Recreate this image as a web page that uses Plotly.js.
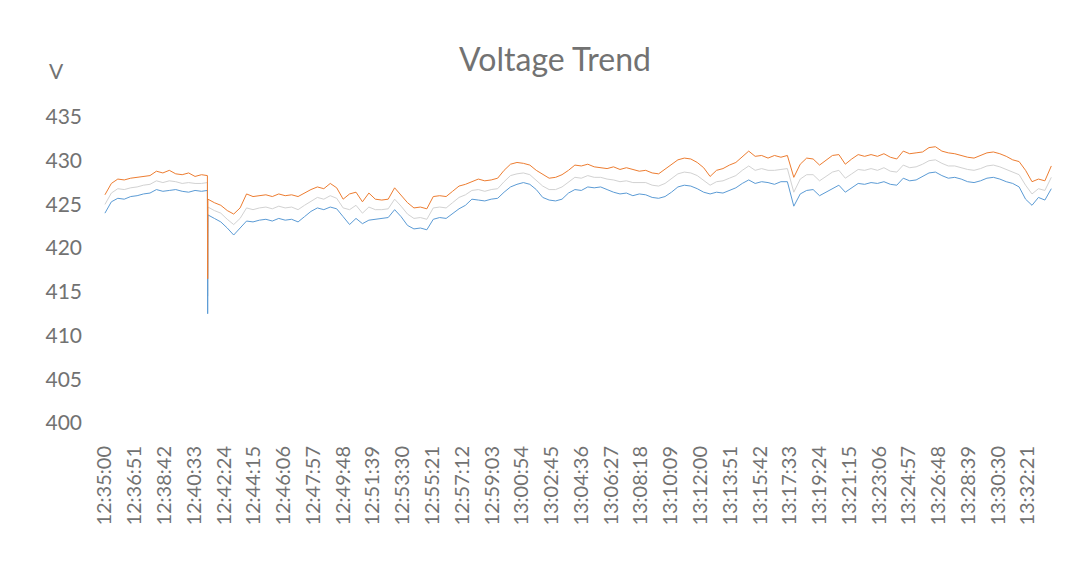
<!DOCTYPE html>
<html>
<head>
<meta charset="utf-8">
<script src="https://cdn.plot.ly/plotly-3.0.1.min.js"></script>
<style>
  html, body { margin: 0; padding: 0; background: #ffffff; }
  #chart { width: 1085px; height: 582px; }
</style>
</head>
<body>
<div id="chart"></div>
<script>
// ---------- data ----------
const chartTitle = 'Voltage Trend';
const unitLabel = 'V';
const startTime = '12:35:00';
const sampleStepSeconds = 24;

const tickLabels = ['12:35:00','12:36:51','12:38:42','12:40:33','12:42:24','12:44:15','12:46:06','12:47:57',
  '12:49:48','12:51:39','12:53:30','12:55:21','12:57:12','12:59:03','13:00:54','13:02:45','13:04:36',
  '13:06:27','13:08:18','13:10:09','13:12:00','13:13:51','13:15:42','13:17:33','13:19:24','13:21:15',
  '13:23:06','13:24:57','13:26:48','13:28:39','13:30:30','13:32:21'];

const yTicks = [400, 405, 410, 415, 420, 425, 430, 435];
const seriesNames = ['Phase 1', 'Phase 2', 'Phase 3'];

const phase1 = [ // blue (lowest)
  424.0,425.3,425.7,425.6,425.9,426.0,426.2,426.3,426.7,426.5,426.6,426.7,426.5,426.4,426.6,426.5,
  423.8,423.4,423.0,422.3,421.5,422.3,423.1,423.0,423.2,423.3,423.1,423.4,423.2,423.3,423.0,423.6,
  424.2,424.6,424.4,424.7,424.5,423.6,422.7,423.4,422.8,423.2,423.3,423.4,423.5,424.4,423.6,422.6,
  422.2,422.3,422.1,423.3,423.5,423.4,424.0,424.5,424.9,425.6,425.5,425.4,425.6,425.7,426.4,427.0,
  427.3,427.5,427.3,426.7,425.8,425.5,425.4,425.6,426.3,426.7,426.6,427.0,426.9,427.0,426.7,426.4,
  426.2,426.3,426.0,426.2,426.1,425.8,425.7,425.9,426.4,427.0,427.2,427.1,426.8,426.4,426.2,426.4,
  426.3,426.6,426.9,427.4,427.8,427.4,427.6,427.5,427.3,427.6,427.6,424.8,426.2,426.6,426.7,426.0,
  426.4,426.8,427.2,426.4,426.9,427.4,427.3,427.5,427.4,427.6,427.3,427.2,428.0,427.7,427.8,428.2,
  428.6,428.7,428.3,428.0,428.1,427.9,427.6,427.5,427.7,428.0,428.1,427.9,427.6,427.4,427.0,425.6,
  424.9,425.8,425.5,426.8];

const phase2 = [ // orange (highest)
  426.1,427.4,427.9,427.8,428.0,428.1,428.2,428.3,428.8,428.6,428.9,428.5,428.4,428.6,428.2,428.4,
  425.6,425.2,424.9,424.3,423.9,424.6,426.2,425.9,426.0,426.1,425.9,426.2,426.0,426.1,425.9,426.3,
  426.7,427.0,426.8,427.4,426.9,425.6,426.2,426.4,425.3,426.3,425.6,425.5,425.6,426.9,426.0,425.2,
  424.6,424.7,424.5,425.9,426.0,425.9,426.5,427.1,427.3,427.6,427.9,427.7,427.8,428.0,428.9,429.6,
  429.8,429.7,429.5,428.9,428.4,428.0,428.1,428.4,428.9,429.5,429.4,429.6,429.3,429.2,429.1,429.3,
  429.0,429.2,429.0,428.8,428.9,428.6,428.5,429.0,429.5,430.1,430.3,430.2,429.8,429.2,428.2,428.9,
  429.1,429.5,429.8,430.4,431.1,430.5,430.6,430.3,430.6,430.4,430.6,428.1,429.6,430.3,430.2,429.5,
  430.0,430.6,430.7,429.6,430.2,430.7,430.5,430.7,430.5,430.8,430.4,430.2,431.1,430.8,430.9,431.0,
  431.5,431.6,431.1,430.9,430.8,430.6,430.4,430.3,430.6,430.9,431.0,430.8,430.5,430.1,429.9,428.9,
  427.6,427.9,427.7,429.4];

const phase3 = [ // gray (middle)
  425.0,426.3,426.8,426.7,426.9,427.0,427.2,427.3,427.7,427.5,427.7,427.6,427.4,427.5,427.4,427.4,
  424.7,424.3,424.0,423.3,422.7,423.4,424.6,424.4,424.6,424.7,424.5,424.8,424.6,424.7,424.4,424.9,
  425.4,425.8,425.6,426.0,425.7,424.6,424.4,424.9,424.0,424.7,424.4,424.4,424.5,425.6,424.8,423.9,
  423.4,423.5,423.3,424.6,424.7,424.6,425.2,425.8,426.1,426.6,426.7,426.5,426.7,426.8,427.6,428.3,
  428.5,428.6,428.4,427.8,427.1,426.7,426.7,427.0,427.6,428.1,428.0,428.3,428.1,428.1,427.9,427.8,
  427.6,427.7,427.5,427.5,427.5,427.2,427.1,427.4,427.9,428.5,428.7,428.6,428.3,427.8,427.2,427.6,
  427.7,428.0,428.3,428.9,429.4,428.9,429.1,428.9,428.9,429.0,429.1,426.4,427.9,428.4,428.4,427.7,
  428.2,428.7,428.9,428.0,428.5,429.0,428.9,429.1,428.9,429.2,428.8,428.7,429.5,429.2,429.3,429.6,
  430.0,430.1,429.7,429.4,429.4,429.2,429.0,428.9,429.1,429.4,429.5,429.3,429.0,428.7,428.4,427.2,
  426.2,426.8,426.6,428.1];

// the momentary dip just before 12:41:24
const dipTimes = ['12:41:22', '12:41:23'];
const phase1Dip = [426.6, 412.5];
const phase2Dip = [428.3, 416.5];
const phase3Dip = [427.5, 414.5];

// ---------- build ----------
function toSec(s) { const p = s.split(':').map(Number); return p[0]*3600 + p[1]*60 + p[2]; }
const t0 = toSec(startTime);

function buildSeries(values, dipValues) {
  const pts = values.map((v, i) => [i * sampleStepSeconds, v]);
  dipTimes.forEach((d, k) => pts.push([toSec(d) - t0, dipValues[k]]));
  pts.sort((a, b) => a[0] - b[0]);
  return { x: pts.map(p => p[0]), y: pts.map(p => p[1]) };
}

const s1 = buildSeries(phase1, phase1Dip);
const s2 = buildSeries(phase2, phase2Dip);
const s3 = buildSeries(phase3, phase3Dip);

const traces = [
  { x: s3.x, y: s3.y, name: seriesNames[2], type: 'scatter', mode: 'lines', line: { color: '#D2D2D2', width: 1 } },
  { x: s1.x, y: s1.y, name: seriesNames[0], type: 'scatter', mode: 'lines', line: { color: '#5B9BD5', width: 1 } },
  { x: s2.x, y: s2.y, name: seriesNames[1], type: 'scatter', mode: 'lines', line: { color: '#ED7D31', width: 1 } }
];

const textColor = '#727272';
const layout = {
  width: 1085, height: 582,
  paper_bgcolor: '#ffffff', plot_bgcolor: '#ffffff',
  margin: { l: 95, r: 20, t: 117, b: 159 },
  showlegend: false,
  font: { family: 'Lato, "Open Sans", sans-serif', size: 21, color: textColor },
  title: {
    text: chartTitle,
    font: { family: 'Lato, "Open Sans", sans-serif', size: 32, color: textColor },
    xref: 'container', yref: 'container',
    x: 555 / 1085, xanchor: 'center',
    y: 1 - 60 / 582, yanchor: 'middle'
  },
  xaxis: {
    range: [-37, 3579],
    tickmode: 'array',
    tickvals: tickLabels.map(s => toSec(s) - t0),
    ticktext: tickLabels,
    tickangle: -90,
    showgrid: false, zeroline: false, showline: false, ticks: '',
    ticklabelstandoff: 18,
    tickfont: { size: 20, color: textColor }
  },
  yaxis: {
    range: [400, 435],
    tickmode: 'array',
    tickvals: yTicks,
    showgrid: false, zeroline: false, showline: false, ticks: '',
    ticklabelstandoff: 12,
    tickfont: { size: 21, color: textColor }
  },
  annotations: [{
    text: unitLabel, xref: 'paper', yref: 'paper',
    x: (56 - 95) / 970, y: (423 - 70) / 306,
    xanchor: 'center', yanchor: 'middle', showarrow: false,
    font: { size: 21, color: textColor }
  }]
};

Plotly.newPlot('chart', traces, layout, { displayModeBar: false, staticPlot: true });
</script>
</body>
</html>
